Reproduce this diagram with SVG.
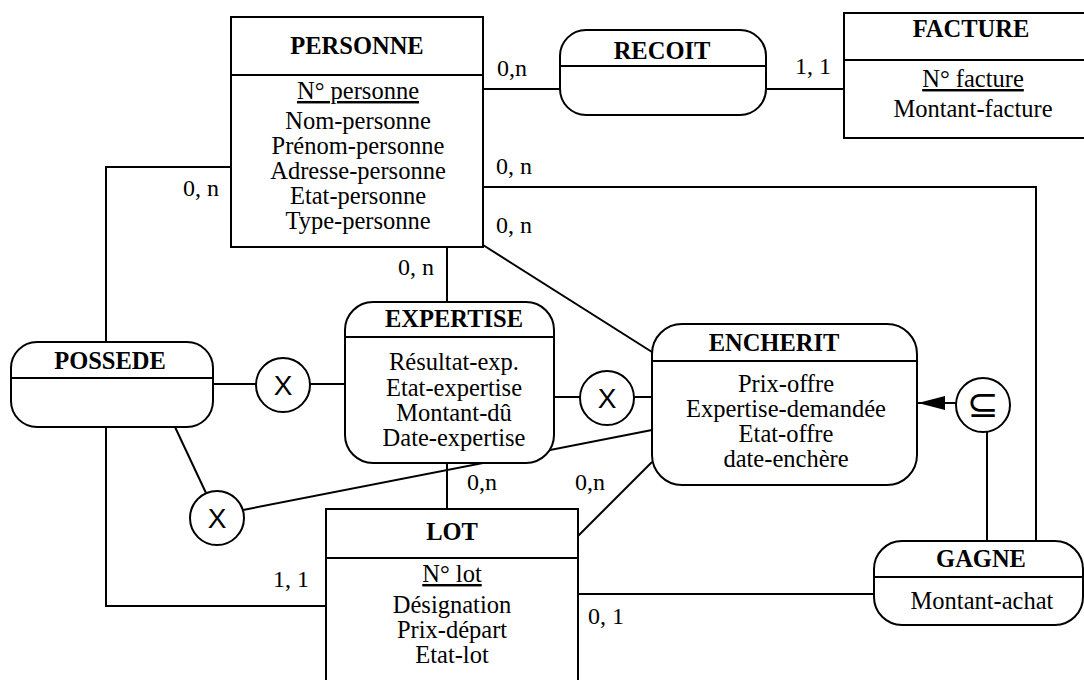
<svg xmlns="http://www.w3.org/2000/svg" width="1084" height="680" viewBox="0 0 1084 680">
<defs>
<style>
.box{fill:#fff;stroke:#000;stroke-width:2}
.div{stroke:#000;stroke-width:2}
.ln{fill:none;stroke:#000;stroke-width:2}
.t{font-family:"Liberation Serif","Times New Roman",serif;font-size:24.5px;font-weight:bold;text-anchor:middle;fill:#000}
.a{font-family:"Liberation Serif","Times New Roman",serif;font-size:24.5px;text-anchor:middle;fill:#000}
.u{text-decoration:underline}
.c{font-family:"Liberation Serif","Times New Roman",serif;font-size:24px;fill:#000}
.x{font-family:"Liberation Sans",Arial,sans-serif;font-size:28px;text-anchor:middle;fill:#000}
.s{font-family:"DejaVu Sans",sans-serif;font-size:38px;text-anchor:middle;fill:#000}
.circ{fill:#fff;stroke:#000;stroke-width:2}
</style>
<marker id="arr" markerUnits="userSpaceOnUse" markerWidth="28" markerHeight="14" refX="27" refY="7" orient="auto">
<path d="M0,0 L27,7 L0,14 z" fill="#000"/>
</marker>
</defs>
<rect width="1084" height="680" fill="#fff"/>
<g id="connectors">
<line class="ln" x1="483" y1="89" x2="560" y2="89"/>
<line class="ln" x1="766" y1="89" x2="844" y2="89"/>
<polyline class="ln" points="483,187 1036,187 1036,541"/>
<line class="ln" x1="483" y1="245" x2="652" y2="352" stroke-width="2.5"/>
<line class="ln" x1="447" y1="247" x2="447" y2="302"/>
<polyline class="ln" points="231,167 106,167 106,342"/>
<polyline class="ln" points="106,427 106,606 326,606"/>
<line class="ln" x1="213" y1="384" x2="256" y2="384"/>
<line class="ln" x1="310" y1="384" x2="345" y2="384"/>
<line class="ln" x1="554" y1="397" x2="580" y2="397"/>
<line class="ln" x1="634" y1="397" x2="652" y2="397"/>
<line class="ln" x1="175" y1="427" x2="206" y2="493"/>
<line class="ln" x1="243" y1="510" x2="652" y2="430"/>
<line class="ln" x1="447" y1="463" x2="447" y2="509"/>
<line class="ln" x1="578" y1="536" x2="652" y2="462"/>
<line class="ln" x1="578" y1="594" x2="874" y2="594"/>
<line class="ln" x1="987" y1="541" x2="987" y2="432"/>
<line class="ln" x1="956" y1="403" x2="918" y2="403" marker-end="url(#arr)"/>
<text class="c" x="497" y="76">0,n</text>
<text class="c" x="795" y="74">1, 1</text>
<text class="c" x="496" y="174">0, n</text>
<text class="c" x="496" y="233">0, n</text>
<text class="c" x="183" y="196">0, n</text>
<text class="c" x="398" y="275">0, n</text>
<text class="c" x="467" y="490">0,n</text>
<text class="c" x="575" y="490">0,n</text>
<text class="c" x="273" y="587">1, 1</text>
<text class="c" x="588" y="624">0, 1</text>
</g>
<g id="personne">
<rect class="box" x="231" y="17" width="252" height="230"/>
<line class="div" x1="231" y1="75" x2="483" y2="75"/>
<text class="t" x="357" y="54">PERSONNE</text>
<text class="a u" x="358" y="99">N° personne</text>
<text class="a" x="358" y="129">Nom-personne</text>
<text class="a" x="358" y="154">Prénom-personne</text>
<text class="a" x="358" y="179">Adresse-personne</text>
<text class="a" x="358" y="204">Etat-personne</text>
<text class="a" x="358" y="229">Type-personne</text>
</g>
<g id="recoit">
<rect class="box" x="560" y="30" width="206" height="85" rx="26"/>
<line class="div" x1="560" y1="66" x2="766" y2="66"/>
<text class="t" x="662" y="59">RECOIT</text>
</g>
<g id="facture">
<rect class="box" x="844" y="13" width="260" height="125"/>
<line class="div" x1="844" y1="60" x2="1104" y2="60"/>
<text class="t" x="971" y="37">FACTURE</text>
<text class="a u" x="973" y="87">N° facture</text>
<text class="a" x="973" y="117">Montant-facture</text>
</g>
<g id="possede">
<rect class="box" x="11" y="342" width="202" height="85" rx="26"/>
<line class="div" x1="11" y1="378" x2="213" y2="378"/>
<text class="t" x="110" y="369">POSSEDE</text>
</g>
<g id="expertise">
<rect class="box" x="345" y="302" width="209" height="161" rx="28"/>
<line class="div" x1="345" y1="337" x2="554" y2="337"/>
<text class="t" x="454" y="327">EXPERTISE</text>
<text class="a" x="454" y="370">Résultat-exp.</text>
<text class="a" x="454" y="396">Etat-expertise</text>
<text class="a" x="454" y="421">Montant-dû</text>
<text class="a" x="454" y="446">Date-expertise</text>
</g>
<g id="encherit">
<rect class="box" x="652" y="324" width="265" height="161" rx="30"/>
<line class="div" x1="652" y1="361" x2="917" y2="361"/>
<text class="t" x="774" y="351">ENCHERIT</text>
<text class="a" x="786" y="392">Prix-offre</text>
<text class="a" x="786" y="417">Expertise-demandée</text>
<text class="a" x="786" y="442">Etat-offre</text>
<text class="a" x="786" y="467">date-enchère</text>
</g>
<g id="lot">
<rect class="box" x="326" y="509" width="252" height="200"/>
<line class="div" x1="326" y1="558" x2="578" y2="558"/>
<text class="t" x="452" y="540">LOT</text>
<text class="a u" x="452" y="582">N° lot</text>
<text class="a" x="452" y="613">Désignation</text>
<text class="a" x="452" y="638">Prix-départ</text>
<text class="a" x="452" y="663">Etat-lot</text>
</g>
<g id="gagne">
<rect class="box" x="874" y="541" width="209" height="84" rx="28"/>
<line class="div" x1="874" y1="577" x2="1083" y2="577"/>
<text class="t" x="981" y="567">GAGNE</text>
<text class="a" x="982" y="609">Montant-achat</text>
</g>
<g id="x-possede-expertise">
<circle class="circ" cx="283" cy="385" r="27"/>
<text class="x" x="283" y="395">X</text>
</g>
<g id="x-expertise-encherit">
<circle class="circ" cx="607" cy="398" r="27"/>
<text class="x" x="607" y="408">X</text>
</g>
<g id="x-possede-encherit">
<circle class="circ" cx="217" cy="518" r="27"/>
<text class="x" x="217" y="528">X</text>
</g>
<g id="inclusion">
<circle class="circ" cx="983" cy="405" r="27"/>
<text class="s" x="983" y="417">⊆</text>
</g>
</svg>
